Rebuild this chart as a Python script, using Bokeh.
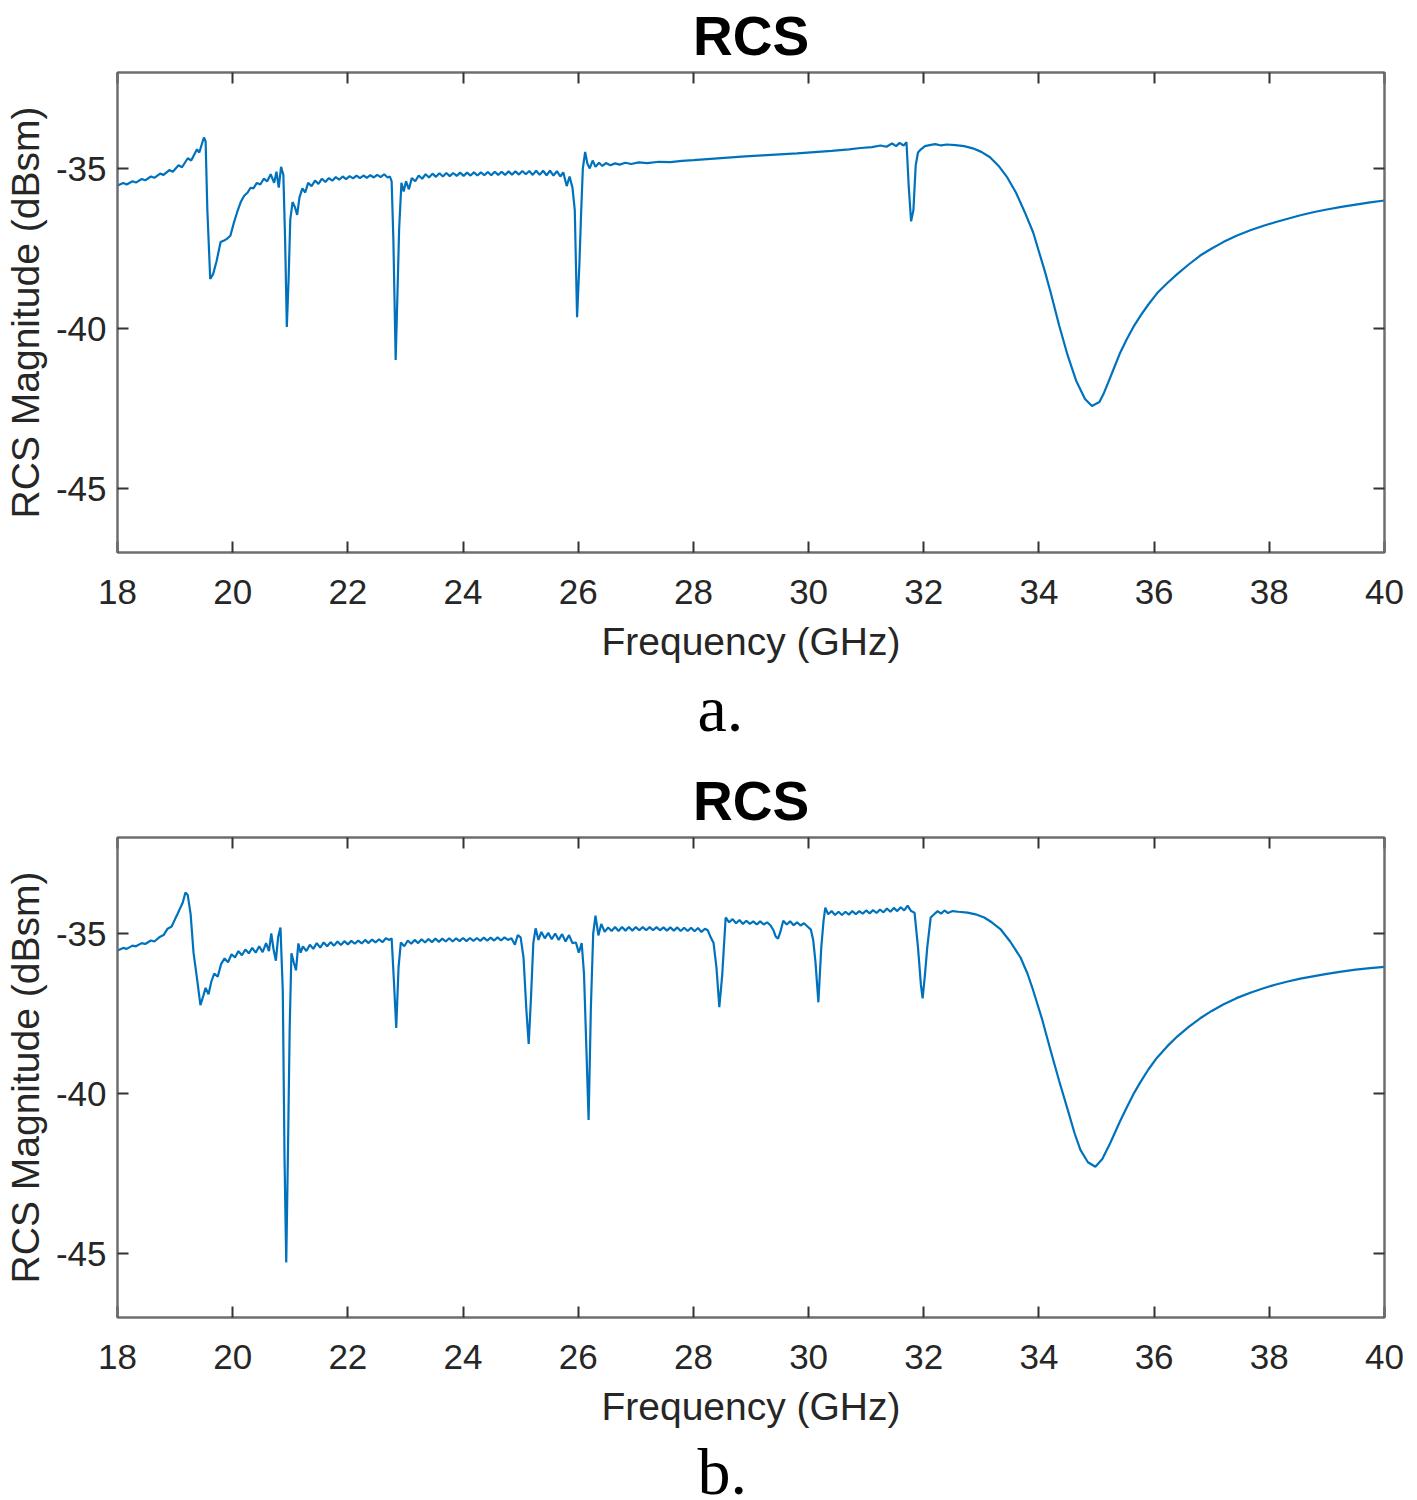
from bokeh.plotting import figure
from bokeh.models import LinearAxis, FixedTicker, Title, Range1d
from bokeh.layouts import column
from bokeh.embed import file_html
from bokeh.resources import INLINE

# ---------------- data ----------------
X_TICKS = [18, 20, 22, 24, 26, 28, 30, 32, 34, 36, 38, 40]
Y_TICKS = [-45, -40, -35]
Y_TICK_LABELS = {-45: "-45", -40: "-40", -35: "-35"}
X_TICK_LABELS = {t: str(t) for t in X_TICKS}
TITLES = ["RCS", "RCS"]
CAPTIONS = ["a.", "b."]
X_LABEL = "Frequency (GHz)"
Y_LABEL = "RCS Magnitude (dBsm)"

FREQ_A = [
    18.00, 18.10, 18.16, 18.26, 18.32, 18.42, 18.48, 18.58, 18.64, 18.74,
    18.80, 18.90, 18.96, 19.06, 19.12, 19.22, 19.28, 19.38, 19.42, 19.50,
    19.53, 19.56, 19.61, 19.66, 19.72, 19.79, 19.85, 19.90, 19.96, 20.02,
    20.08, 20.14, 20.20, 20.26, 20.31, 20.36, 20.42, 20.48, 20.54, 20.60,
    20.66, 20.72, 20.76, 20.80, 20.84, 20.88, 20.91, 20.94, 20.97, 21.00,
    21.04, 21.08, 21.12, 21.16, 21.21, 21.26, 21.31, 21.37, 21.43, 21.49,
    21.55, 21.61, 21.67, 21.73, 21.79, 21.85, 21.91, 21.97, 22.03, 22.09,
    22.15, 22.21, 22.27, 22.33, 22.39, 22.45, 22.51, 22.57, 22.63, 22.69,
    22.73, 22.76, 22.79, 22.83, 22.86, 22.89, 22.93, 22.97, 23.01, 23.06,
    23.11, 23.17, 23.23, 23.29, 23.35, 23.41, 23.47, 23.53, 23.59, 23.65,
    23.71, 23.77, 23.83, 23.89, 23.95, 24.01, 24.07, 24.13, 24.19, 24.25,
    24.31, 24.37, 24.43, 24.49, 24.55, 24.61, 24.67, 24.73, 24.79, 24.85,
    24.91, 24.97, 25.03, 25.09, 25.15, 25.21, 25.27, 25.33, 25.39, 25.45,
    25.51, 25.57, 25.63, 25.69, 25.74, 25.80, 25.85, 25.90, 25.94, 25.98,
    26.02, 26.05, 26.08, 26.12, 26.16, 26.20, 26.25, 26.30, 26.36, 26.42,
    26.48, 26.56, 26.64, 26.72, 26.82, 26.92, 27.05, 27.20, 27.40, 27.60,
    27.80, 28.00, 28.30, 28.60, 28.90, 29.20, 29.50, 29.80, 30.10, 30.40,
    30.70, 30.90, 31.10, 31.25, 31.35, 31.45, 31.52, 31.58, 31.65, 31.70,
    31.74, 31.78, 31.82, 31.86, 31.90, 31.95, 32.02, 32.10, 32.20, 32.30,
    32.40, 32.55, 32.70, 32.85, 33.00, 33.15, 33.30, 33.45, 33.60, 33.75,
    33.90, 34.00, 34.10, 34.20, 34.35, 34.50, 34.65, 34.80, 34.92, 35.05,
    35.12, 35.20, 35.30, 35.40, 35.52, 35.64, 35.77, 35.90, 36.05, 36.23,
    36.40, 36.60, 36.80, 37.00, 37.20, 37.43, 37.67, 37.90, 38.10, 38.32,
    38.54, 38.78, 39.00, 39.25, 39.50, 39.75, 40.00,
]
RCS_A = [
    -35.53, -35.45, -35.50, -35.40, -35.44, -35.33, -35.37, -35.25, -35.29, -35.16,
    -35.20, -35.05, -35.10, -34.90, -34.96, -34.68, -34.75, -34.40, -34.50, -34.03,
    -34.15, -36.30, -38.45, -38.30, -37.90, -37.30, -37.25, -37.20, -37.10, -36.70,
    -36.35, -36.05, -35.85, -35.75, -35.60, -35.62, -35.45, -35.50, -35.32, -35.40,
    -35.18, -35.45, -35.10, -35.60, -34.95, -35.20, -37.20, -39.95, -38.50, -36.60,
    -36.05, -36.20, -36.45, -35.90, -35.62, -35.75, -35.45, -35.55, -35.38, -35.48,
    -35.32, -35.42, -35.30, -35.38, -35.27, -35.35, -35.25, -35.33, -35.24, -35.31,
    -35.22, -35.30, -35.22, -35.29, -35.21, -35.28, -35.20, -35.27, -35.18, -35.28,
    -35.25, -35.40, -37.20, -40.98, -39.00, -36.90, -35.45, -35.72, -35.40, -35.65,
    -35.30, -35.40, -35.22, -35.32, -35.18, -35.28, -35.16, -35.26, -35.15, -35.25,
    -35.14, -35.24, -35.14, -35.23, -35.13, -35.23, -35.13, -35.22, -35.12, -35.22,
    -35.12, -35.21, -35.11, -35.21, -35.10, -35.20, -35.10, -35.20, -35.09, -35.19,
    -35.09, -35.19, -35.08, -35.18, -35.08, -35.20, -35.07, -35.20, -35.07, -35.21,
    -35.07, -35.22, -35.08, -35.25, -35.12, -35.55, -35.25, -35.60, -36.30, -39.65,
    -38.00, -36.40, -35.00, -34.48, -34.85, -35.00, -34.75, -34.95, -34.82, -34.92,
    -34.83, -34.90, -34.84, -34.88, -34.82, -34.86, -34.81, -34.83, -34.79, -34.80,
    -34.76, -34.74, -34.70, -34.66, -34.62, -34.59, -34.56, -34.53, -34.49, -34.45,
    -34.40, -34.36, -34.33, -34.28, -34.32, -34.22, -34.30, -34.20, -34.28, -34.18,
    -35.60, -36.65, -36.30, -34.90, -34.50, -34.40, -34.30, -34.27, -34.24, -34.28,
    -34.25, -34.27, -34.30, -34.37, -34.48, -34.65, -34.92, -35.28, -35.75, -36.35,
    -37.00, -37.60, -38.20, -38.85, -39.90, -40.85, -41.65, -42.20, -42.42, -42.30,
    -42.05, -41.70, -41.25, -40.80, -40.35, -39.95, -39.58, -39.25, -38.90, -38.58,
    -38.30, -38.00, -37.72, -37.50, -37.30, -37.10, -36.93, -36.79, -36.68, -36.57,
    -36.46, -36.36, -36.28, -36.20, -36.13, -36.06, -36.00,
]

FREQ_B = [
    18.00, 18.10, 18.16, 18.26, 18.32, 18.42, 18.48, 18.58, 18.64, 18.74,
    18.80, 18.87, 18.94, 19.00, 19.04, 19.09, 19.13, 19.18, 19.22, 19.27,
    19.32, 19.38, 19.44, 19.49, 19.53, 19.58, 19.63, 19.68, 19.74, 19.80,
    19.86, 19.92, 19.98, 20.04, 20.10, 20.16, 20.22, 20.28, 20.34, 20.40,
    20.46, 20.52, 20.58, 20.63, 20.67, 20.71, 20.75, 20.79, 20.83, 20.87,
    20.90, 20.93, 20.96, 20.99, 21.02, 21.06, 21.10, 21.14, 21.18, 21.22,
    21.28, 21.34, 21.40, 21.46, 21.52, 21.58, 21.64, 21.70, 21.76, 21.82,
    21.88, 21.94, 22.00, 22.06, 22.12, 22.18, 22.24, 22.30, 22.36, 22.42,
    22.48, 22.54, 22.60, 22.66, 22.72, 22.76, 22.80, 22.84, 22.88, 22.92,
    22.98, 23.04, 23.10, 23.16, 23.22, 23.28, 23.34, 23.40, 23.46, 23.52,
    23.58, 23.64, 23.70, 23.76, 23.82, 23.88, 23.94, 24.00, 24.06, 24.12,
    24.18, 24.24, 24.30, 24.36, 24.42, 24.48, 24.54, 24.60, 24.66, 24.72,
    24.78, 24.84, 24.90, 24.95, 25.00, 25.05, 25.10, 25.14, 25.18, 25.22,
    25.26, 25.31, 25.36, 25.42, 25.48, 25.54, 25.60, 25.66, 25.72, 25.78,
    25.84, 25.90, 25.96, 26.01, 26.06, 26.10, 26.14, 26.18, 26.22, 26.26,
    26.30, 26.35, 26.40, 26.46, 26.52, 26.58, 26.64, 26.70, 26.76, 26.82,
    26.88, 26.94, 27.00, 27.06, 27.12, 27.18, 27.24, 27.30, 27.36, 27.42,
    27.48, 27.54, 27.60, 27.66, 27.72, 27.78, 27.84, 27.90, 27.96, 28.02,
    28.08, 28.14, 28.20, 28.25, 28.30, 28.35, 28.40, 28.45, 28.50, 28.56,
    28.62, 28.68, 28.74, 28.80, 28.86, 28.92, 28.98, 29.04, 29.10, 29.16,
    29.22, 29.28, 29.34, 29.39, 29.43, 29.47, 29.51, 29.56, 29.62, 29.68,
    29.74, 29.80, 29.86, 29.92, 29.98, 30.04, 30.08, 30.12, 30.17, 30.22,
    30.26, 30.29, 30.34, 30.40, 30.46, 30.52, 30.58, 30.64, 30.70, 30.76,
    30.82, 30.88, 30.94, 31.00, 31.06, 31.12, 31.18, 31.24, 31.30, 31.36,
    31.42, 31.48, 31.54, 31.60, 31.66, 31.72, 31.78, 31.84, 31.90, 31.95,
    31.98, 32.02, 32.06, 32.12, 32.18, 32.24, 32.30, 32.36, 32.42, 32.50,
    32.60, 32.76, 32.90, 33.05, 33.18, 33.33, 33.50, 33.68, 33.80, 33.90,
    34.05, 34.20, 34.35, 34.50, 34.62, 34.72, 34.85, 34.98, 35.10, 35.24,
    35.32, 35.40, 35.52, 35.64, 35.77, 35.90, 36.05, 36.23, 36.40, 36.60,
    36.80, 37.00, 37.20, 37.43, 37.67, 37.90, 38.10, 38.32, 38.54, 38.78,
    39.00, 39.25, 39.50, 39.75, 40.00,
]
RCS_B = [
    -35.53, -35.45, -35.48, -35.38, -35.40, -35.30, -35.33, -35.22, -35.25, -35.10,
    -35.05, -34.85, -34.78, -34.55, -34.40, -34.20, -34.05, -33.72, -33.80, -34.40,
    -35.60, -36.40, -37.24, -36.95, -36.70, -36.90, -36.50, -36.25, -36.35, -35.95,
    -35.78, -35.90, -35.65, -35.75, -35.55, -35.68, -35.50, -35.62, -35.45, -35.60,
    -35.40, -35.58, -35.30, -35.55, -35.00, -35.50, -35.85, -35.10, -34.81, -36.80,
    -42.00, -45.28, -41.80, -37.93, -35.62, -35.90, -36.15, -35.31, -35.60, -35.40,
    -35.55, -35.35, -35.48, -35.30, -35.44, -35.28, -35.40, -35.27, -35.38, -35.25,
    -35.36, -35.24, -35.34, -35.23, -35.32, -35.22, -35.31, -35.20, -35.30, -35.19,
    -35.28, -35.18, -35.27, -35.15, -35.20, -35.15, -36.50, -37.95, -36.06, -35.28,
    -35.40, -35.22, -35.32, -35.20, -35.30, -35.18, -35.28, -35.17, -35.27, -35.16,
    -35.26, -35.16, -35.25, -35.15, -35.25, -35.15, -35.24, -35.14, -35.24, -35.14,
    -35.23, -35.14, -35.23, -35.13, -35.22, -35.13, -35.22, -35.12, -35.22, -35.12,
    -35.20, -35.15, -35.35, -35.05, -35.12, -35.75, -37.40, -38.45, -37.00, -35.30,
    -34.84, -35.20, -34.95, -35.15, -34.98, -35.18, -35.00, -35.20, -35.02, -35.25,
    -35.05, -35.30, -35.28, -35.60, -35.30, -36.25, -38.50, -40.83, -37.30, -35.00,
    -34.44, -35.06, -34.70, -34.95, -34.81, -34.92, -34.80, -34.92, -34.80, -34.91,
    -34.80, -34.91, -34.80, -34.90, -34.80, -34.90, -34.80, -34.90, -34.80, -34.90,
    -34.81, -34.91, -34.81, -34.91, -34.81, -34.92, -34.82, -34.92, -34.82, -34.93,
    -34.83, -34.95, -34.85, -34.90, -35.12, -35.30, -36.06, -37.30, -36.30, -34.50,
    -34.65, -34.55, -34.68, -34.58, -34.70, -34.60, -34.70, -34.62, -34.72, -34.62,
    -34.72, -34.65, -34.75, -34.90, -35.10, -35.16, -34.95, -34.60, -34.72, -34.62,
    -34.74, -34.65, -34.75, -34.68, -34.78, -34.88, -35.20, -35.90, -37.15, -35.44,
    -34.60, -34.19, -34.40, -34.30, -34.42, -34.32, -34.42, -34.32, -34.41, -34.30,
    -34.40, -34.30, -34.38, -34.28, -34.37, -34.27, -34.36, -34.25, -34.34, -34.22,
    -34.32, -34.20, -34.30, -34.18, -34.28, -34.13, -34.30, -34.35, -35.44, -36.60,
    -37.03, -36.30, -35.44, -34.50, -34.40, -34.30, -34.38, -34.28, -34.36, -34.30,
    -34.32, -34.35, -34.40, -34.50, -34.65, -34.86, -35.25, -35.75, -36.25, -36.78,
    -37.65, -38.64, -39.60, -40.51, -41.25, -41.76, -42.15, -42.29, -42.05, -41.54,
    -41.22, -40.90, -40.45, -40.02, -39.62, -39.25, -38.88, -38.52, -38.22, -37.92,
    -37.65, -37.42, -37.22, -37.02, -36.85, -36.71, -36.60, -36.50, -36.41, -36.33,
    -36.26, -36.19, -36.13, -36.08, -36.04,
]

assert len(FREQ_A) == len(RCS_A), (len(FREQ_A), len(RCS_A))
assert len(FREQ_B) == len(RCS_B), (len(FREQ_B), len(RCS_B))

# ---------------- styling ----------------
SANS = "Liberation Sans"
SERIF = "Liberation Serif"
LINE_COLOR = "#0072BD"
AXIS_COLOR = "#6e6e6e"
TEXT_COLOR = "#262626"
FRAME_W, FRAME_H = 1267, 480


def style_axis(ax, show_labels=True):
    ax.axis_line_color = AXIS_COLOR
    ax.axis_line_width = 2
    ax.major_tick_in = 11
    ax.major_tick_out = 0
    ax.major_tick_line_color = "#333333"
    ax.major_tick_line_width = 2
    ax.minor_tick_line_color = None
    ax.major_label_text_font = SANS
    ax.major_label_text_color = TEXT_COLOR
    if show_labels:
        ax.major_label_text_font_size = "35px"
    else:
        ax.major_label_text_font_size = "0px"
        ax.major_label_standoff = 0
    ax.axis_label_text_font = SANS
    ax.axis_label_text_font_size = "39px"
    ax.axis_label_text_font_style = "normal"
    ax.axis_label_text_color = TEXT_COLOR


def make_panel(freq, rcs, title, caption, caption_standoff):
    p = figure(
        frame_width=FRAME_W, frame_height=FRAME_H,
        x_range=Range1d(18, 40), y_range=Range1d(-47, -32),
        output_backend="svg", toolbar_location=None,
        min_border_left=109, min_border_right=24,
        min_border_top=72, min_border_bottom=0,
        background_fill_color="white", border_fill_color="white",
    )
    p.grid.visible = False
    p.outline_line_color = AXIS_COLOR
    p.outline_line_width = 2

    p.xaxis.ticker = FixedTicker(ticks=X_TICKS)
    p.yaxis.ticker = FixedTicker(ticks=Y_TICKS)
    p.xaxis.major_label_overrides = X_TICK_LABELS
    p.yaxis.major_label_overrides = Y_TICK_LABELS
    style_axis(p.xaxis[0])
    style_axis(p.yaxis[0])
    p.xaxis.axis_label = X_LABEL
    p.yaxis.axis_label = Y_LABEL
    p.xaxis.major_label_standoff = 27
    p.xaxis.axis_label_standoff = 13
    p.yaxis.major_label_standoff = 11
    p.yaxis.axis_label_standoff = 6

    top = LinearAxis(ticker=FixedTicker(ticks=X_TICKS))
    style_axis(top, show_labels=False)
    p.add_layout(top, "above")
    right = LinearAxis(ticker=FixedTicker(ticks=Y_TICKS))
    style_axis(right, show_labels=False)
    p.add_layout(right, "right")

    p.title.text = title
    p.title.align = "center"
    p.title.vertical_align = "top"
    p.title.text_font = SANS
    p.title.text_font_size = "55px"
    p.title.text_font_style = "bold"
    p.title.text_color = "#000000"
    p.title.standoff = 8

    cap = Title(text=caption, align="left", offset=580, text_font=SERIF,
                text_font_size="66px", text_font_style="normal",
                text_color="#000000", standoff=caption_standoff)
    p.add_layout(cap, "below")

    p.line(freq, rcs, line_color=LINE_COLOR, line_width=2.2)
    return p


p1 = make_panel(FREQ_A, RCS_A, TITLES[0], CAPTIONS[0], 9)
p2 = make_panel(FREQ_B, RCS_B, TITLES[1], CAPTIONS[1], 4)
layout = column(p1, p2, spacing=16)

open("out.html", "w").write(file_html(layout, INLINE))
